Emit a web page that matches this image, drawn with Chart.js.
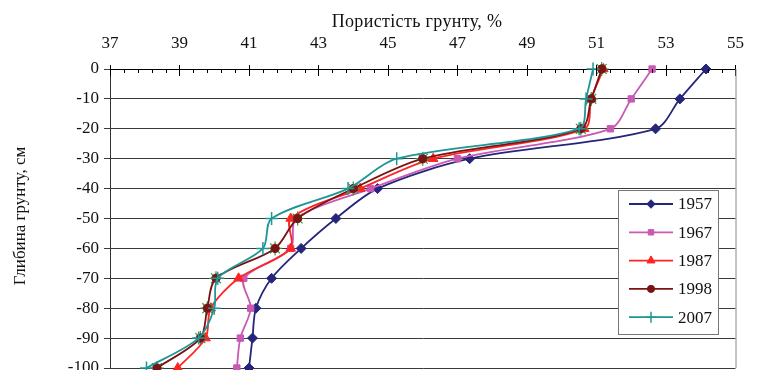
<!DOCTYPE html>
<html><head><meta charset="utf-8">
<script src="https://cdn.jsdelivr.net/npm/chart.js@4/dist/chart.umd.min.js"></script>
<style>
html,body{margin:0;padding:0;background:#fff;overflow:hidden;}
#wrap{position:relative;width:759px;height:400px;}
</style></head><body>
<div id="wrap"><canvas id="c" width="759" height="400"></canvas></div>
<script>
// ---- data ----
const depths = [0, -10, -20, -30, -40, -50, -60, -70, -80, -90, -100];
const xTicks = [37, 39, 41, 43, 45, 47, 49, 51, 53, 55];
const yTicks = [0, -10, -20, -30, -40, -50, -60, -70, -80, -90, -100];
const seriesNames = ['1957', '1967', '1987', '1998', '2007'];
const p1957 = [54.15, 53.4, 52.7, 47.35, 44.7, 43.5, 42.5, 41.65, 41.2, 41.1, 41.0];
const p1967 = [52.6, 52.0, 51.4, 47.0, 44.5, 42.35, 42.2, 40.85, 41.05, 40.75, 40.65];
const p1987 = [51.2, 50.85, 50.65, 46.3, 44.2, 42.2, 42.2, 40.7, 39.9, 39.75, 38.95];
const p1998 = [51.15, 50.85, 50.55, 46.0, 44.0, 42.4, 41.75, 40.05, 39.8, 39.6, 38.35];
const p2007 = [50.9, 50.7, 50.5, 45.25, 43.85, 41.65, 41.4, 40.1, 40.0, 39.55, 38.05];
const xTitle = 'Пористість грунту, %';
const yTitle = 'Глибина грунту, см';

const FONT = '"Liberation Serif", "Times New Roman", serif';
const FS = 17;
const pts = arr => arr.map((v, i) => ({x: v, y: depths[i]}));

const styles = [
  {color: '#25257a', style: 'rectRot', r: 5},
  {color: '#c85ab5', style: 'rect', r: 4.5},
  {color: '#ff2424', style: 'triangle', r: 5.5},
  {color: '#7a1414', style: 'circle', r: 4.2},
  {color: '#1f9696', style: 'cross', r: 6.5}
];
const values = [p1957, p1967, p1987, p1998, p2007];

const datasets = values.map((v, i) => ({
  label: seriesNames[i],
  data: pts(v),
  borderColor: styles[i].color,
  backgroundColor: styles[i].color,
  borderWidth: 1.8,
  pointStyle: styles[i].style,
  pointRadius: styles[i].r,
  pointBorderWidth: i === 4 ? 1.5 : 1,
  pointBackgroundColor: styles[i].color,
  pointBorderColor: styles[i].color,
  tension: 0.3,
  clip: false,
  order: [5, 4, 3, 2, 1][i]
}));
datasets.push({
  label: '1998*',
  data: pts(p1998),
  showLine: false,
  pointStyle: 'star',
  pointRadius: 7,
  pointBorderWidth: 1.2,
  pointBorderColor: '#2e9a3e',
  pointBackgroundColor: '#2e9a3e',
  borderColor: '#2e9a3e',
  clip: false,
  order: 2.5
});

const deco = {
  id: 'deco',
  afterDraw(chart) {
    const ctx = chart.ctx, ca = chart.chartArea;
    const xs = chart.scales.x;
    ctx.save();
    // inside ticks on top axis
    ctx.strokeStyle = '#000'; ctx.lineWidth = 1;
    for (let v = 37; v <= 55.001; v += 0.4) {
      const px = Math.round(xs.getPixelForValue(v)) + 0.5;
      const isMajor = Math.abs((v - 37) / 2 - Math.round((v - 37) / 2)) < 0.01;
      ctx.beginPath();
      if (isMajor) { ctx.moveTo(px, ca.top - 4); ctx.lineTo(px, ca.top + 7); }
      else { ctx.moveTo(px, ca.top); ctx.lineTo(px, ca.top + 4); }
      ctx.stroke();
    }
    // right border
    ctx.strokeStyle = '#888';
    ctx.beginPath(); ctx.moveTo(ca.right + 0.5, ca.top); ctx.lineTo(ca.right + 0.5, ca.bottom); ctx.stroke();
    // titles
    ctx.fillStyle = '#111';
    ctx.textAlign = 'center'; ctx.textBaseline = 'middle';
    ctx.font = '18px ' + FONT;
    try { ctx.letterSpacing = '0.35px'; } catch (e) {}
    ctx.fillText(xTitle, 417, 22);
    try { ctx.letterSpacing = '0px'; } catch (e) {}
    ctx.font = FS + 'px ' + FONT;
    ctx.save();
    ctx.translate(21, 216); ctx.rotate(-Math.PI / 2);
    ctx.fillText(yTitle, 0, 0);
    ctx.restore();
    // legend
    const bx = 618.5, by = 190.5, bw = 100, bh = 144;
    ctx.fillStyle = '#fff'; ctx.fillRect(bx, by, bw, bh);
    ctx.strokeStyle = '#777'; ctx.lineWidth = 1; ctx.strokeRect(bx, by, bw, bh);
    for (let i = 0; i < 5; i++) {
      const yy = 204 + i * 28.3;
      ctx.strokeStyle = styles[i].color; ctx.lineWidth = 1.8;
      ctx.beginPath(); ctx.moveTo(629, yy); ctx.lineTo(673, yy); ctx.stroke();
      ctx.fillStyle = styles[i].color; ctx.lineWidth = i === 4 ? 1.5 : 1;
      Chart.helpers.drawPoint(ctx, {pointStyle: styles[i].style, radius: styles[i].r * 0.85, borderWidth: 1, rotation: 0}, 651, yy);
      ctx.fillStyle = '#111';
      ctx.font = FS + 'px ' + FONT;
      ctx.textAlign = 'left'; ctx.textBaseline = 'middle';
      ctx.fillText(seriesNames[i], 678, yy + 1);
    }
    ctx.restore();
  }
};

new Chart(document.getElementById('c'), {
  type: 'line',
  data: {datasets},
  options: {
    responsive: false,
    animation: false,
    devicePixelRatio: 1,
    layout: {padding: {left: 0, right: 10, top: 0, bottom: 32}},
    plugins: {legend: {display: false}, tooltip: {enabled: false}},
    scales: {
      x: {
        type: 'linear', position: 'top', min: 37, max: 55,
        afterBuildTicks: s => { s.ticks = xTicks.map(v => ({value: v})); },
        ticks: {font: {family: FONT, size: FS}, color: '#111', padding: 15},
        grid: {drawOnChartArea: false, drawTicks: false},
        border: {color: '#000', width: 1},
        afterFit: s => { s.height = 69; }
      },
      y: {
        type: 'linear', min: -100, max: 0,
        afterBuildTicks: s => { s.ticks = yTicks.map(v => ({value: v})); },
        ticks: {font: {family: FONT, size: FS}, color: '#111', padding: 5},
        grid: {color: '#3a3a3a', lineWidth: 1, tickLength: 6},
        border: {color: '#333', width: 1},
        afterFit: s => { s.width = 110; }
      }
    }
  },
  plugins: [deco]
});
</script>
</body></html>
